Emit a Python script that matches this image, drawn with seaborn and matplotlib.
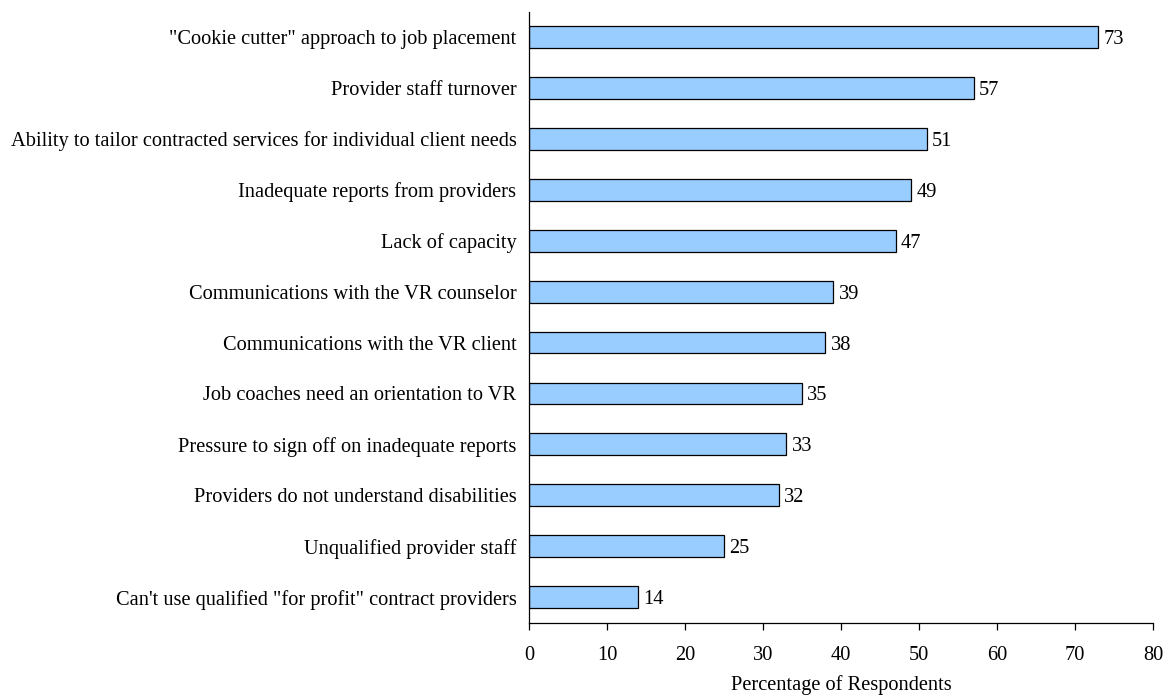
import matplotlib
matplotlib.use("Agg")
import matplotlib.pyplot as plt
import seaborn as sns
import pandas as pd
import numpy as np

categories = [
    '"Cookie cutter" approach to job placement',
    'Provider staff turnover',
    'Ability to tailor contracted services for individual client needs',
    'Inadequate reports from providers',
    'Lack of capacity',
    'Communications with the VR counselor',
    'Communications with the VR client',
    'Job coaches need an orientation to VR',
    'Pressure to sign off on inadequate reports',
    'Providers do not understand disabilities',
    'Unqualified provider staff',
    'Can\'t use qualified "for profit" contract providers',
]
values = [73, 57, 51, 49, 47, 39, 38, 35, 33, 32, 25, 14]
x_ticks = [0, 10, 20, 30, 40, 50, 60, 70, 80]
x_label = "Percentage of Respondents"

sns.set_style("white")
plt.rcParams["font.family"] = ["Liberation Serif", "DejaVu Serif"]
plt.rcParams["text.color"] = "black"
plt.rcParams["xtick.color"] = "black"
plt.rcParams["ytick.color"] = "black"
plt.rcParams["axes.labelcolor"] = "black"

df = pd.DataFrame({"issue": categories, "pct": values})

fig = plt.figure(figsize=(11.65, 6.98), dpi=100)
ax = fig.add_axes([0.454, 0.108, 0.5357, 0.8755])

sns.barplot(data=df, x="pct", y="issue", orient="h", color="#99CCFF",
            saturation=1, edgecolor="black", linewidth=0.9, width=0.43, ax=ax)

ax.set_xlim(0, 80)
ax.set_ylim(len(categories) - 0.5, -0.5)
ax.set_xticks(x_ticks)
ax.set_xticklabels([str(t) for t in x_ticks], fontsize=14.7)
ax.set_xlabel(x_label, fontsize=14.7, labelpad=7)
ax.set_ylabel("")

# category labels on major ticks without marks; tick marks at the boundaries
ax.tick_params(axis="y", which="major", length=0, pad=9, labelsize=14.7)
ax.set_yticks(np.arange(-0.5, len(categories), 1), minor=True)
ax.tick_params(axis="y", which="minor", length=5, width=0.9, direction="out", color="black")
ax.tick_params(axis="x", which="major", length=5, width=0.9, direction="out",
               color="black", pad=12, bottom=True)

for sp in ["top", "right"]:
    ax.spines[sp].set_visible(False)
for sp in ["left", "bottom"]:
    ax.spines[sp].set_color("black")
    ax.spines[sp].set_linewidth(0.9)

for i, v in enumerate(values):
    ax.text(v + 0.7, i, str(v), va="center_baseline", ha="left", fontsize=14.7)

fig.savefig("out.png", dpi=100)
